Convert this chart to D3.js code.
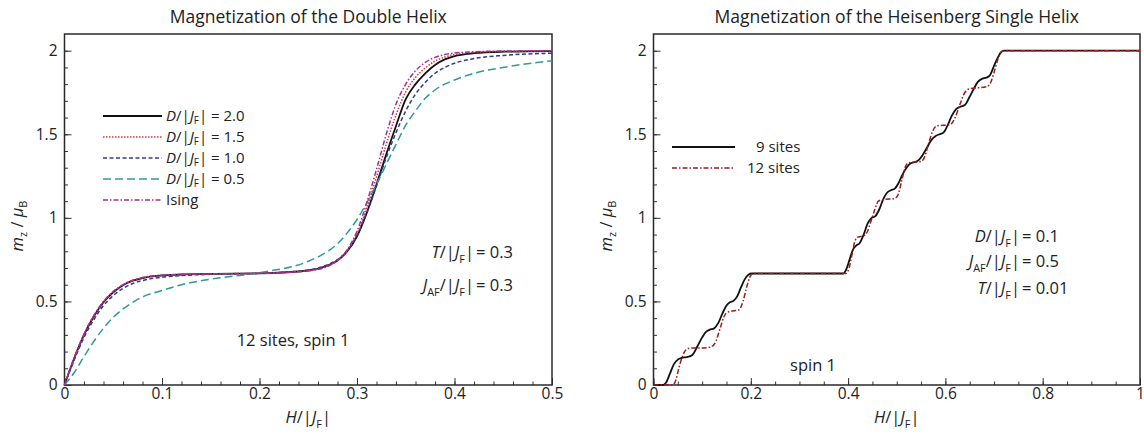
<!DOCTYPE html>
<html>
<head>
<meta charset="utf-8">
<script src="https://cdn.jsdelivr.net/npm/d3@7"></script>
<style>
  body { margin: 0; background: #fff; }
  text { font-family: "Open Sans", sans-serif; fill: #222; }
</style>
</head>
<body>
<script>
// ---- data: left panel (double helix, 12 sites, spin 1) ----
const hLeft = [0,0.01,0.02,0.03,0.04,0.05,0.06,0.07,0.08,0.1,0.12,0.15,0.2,0.25,0.27,0.28,0.29,0.3,0.31,0.32,0.33,0.34,0.35,0.36,0.37,0.38,0.39,0.4,0.42,0.45,0.5];
const mD20  = [0,0.16,0.30,0.41,0.495,0.555,0.597,0.624,0.64,0.655,0.661,0.665,0.668,0.685,0.715,0.745,0.80,0.89,1.03,1.2,1.38,1.55,1.71,1.80,1.865,1.915,1.948,1.968,1.985,1.994,1.998];
const mD15  = [0,0.162,0.302,0.412,0.497,0.557,0.598,0.625,0.641,0.656,0.661,0.665,0.668,0.684,0.712,0.745,0.805,0.905,1.06,1.245,1.44,1.615,1.755,1.84,1.897,1.938,1.962,1.977,1.99,1.996,1.999];
const mD10  = [0,0.15,0.285,0.39,0.475,0.535,0.578,0.607,0.625,0.645,0.655,0.662,0.668,0.688,0.72,0.75,0.805,0.895,1.03,1.19,1.36,1.51,1.64,1.74,1.81,1.865,1.9,1.925,1.953,1.972,1.985];
const mD05  = [0,0.075,0.17,0.26,0.34,0.405,0.455,0.495,0.527,0.565,0.6,0.633,0.672,0.74,0.8,0.845,0.91,0.99,1.09,1.2,1.32,1.44,1.555,1.64,1.715,1.765,1.8,1.825,1.865,1.9,1.94];
const mIsing = [0,0.165,0.305,0.415,0.5,0.56,0.6,0.627,0.643,0.657,0.662,0.665,0.668,0.683,0.71,0.745,0.81,0.92,1.09,1.29,1.5,1.68,1.8,1.88,1.93,1.96,1.977,1.986,1.994,1.998,2.0];

// ---- data: right panel (Heisenberg single helix, spin 1) ----
const h9 = [0,0.02,0.026,0.034,0.042,0.05,0.058,0.068,0.08,0.09,0.1,0.108,0.115,0.125,0.133,0.142,0.15,0.157,0.165,0.172,0.18,0.188,0.195,0.202,0.39,0.396,0.403,0.41,0.417,0.424,0.432,0.44,0.448,0.456,0.464,0.472,0.48,0.488,0.496,0.504,0.512,0.52,0.528,0.536,0.545,0.553,0.562,0.571,0.58,0.588,0.596,0.604,0.613,0.622,0.631,0.64,0.649,0.658,0.667,0.676,0.685,0.692,0.7,0.708,0.714,0.72,1.0];
const m9 = [0,0,0.015,0.07,0.125,0.152,0.162,0.167,0.18,0.23,0.285,0.318,0.33,0.34,0.37,0.43,0.475,0.495,0.505,0.53,0.585,0.635,0.66,0.667,0.667,0.69,0.75,0.81,0.835,0.85,0.9,0.965,0.998,1.01,1.05,1.11,1.15,1.165,1.175,1.21,1.26,1.3,1.325,1.333,1.345,1.375,1.42,1.465,1.49,1.5,1.51,1.55,1.61,1.65,1.665,1.675,1.72,1.77,1.815,1.833,1.84,1.855,1.91,1.96,1.99,2.0,2.0];
const h12 = [0,0.04,0.046,0.052,0.058,0.064,0.071,0.085,0.105,0.118,0.128,0.137,0.145,0.153,0.165,0.176,0.184,0.191,0.198,0.205,0.395,0.402,0.408,0.414,0.42,0.432,0.44,0.447,0.455,0.462,0.475,0.495,0.503,0.51,0.517,0.524,0.55,0.558,0.566,0.574,0.582,0.61,0.62,0.63,0.64,0.65,0.685,0.693,0.7,0.708,0.716,0.722,1.0];
const m12 = [0,0,0.03,0.1,0.16,0.2,0.218,0.222,0.222,0.228,0.26,0.34,0.41,0.437,0.444,0.45,0.5,0.58,0.645,0.667,0.667,0.7,0.78,0.86,0.885,0.893,0.92,0.98,1.05,1.1,1.111,1.115,1.14,1.22,1.3,1.33,1.337,1.37,1.45,1.52,1.55,1.558,1.6,1.68,1.75,1.772,1.785,1.81,1.87,1.95,1.995,2.0,2.0];

// ---- ticks ----
const yTicks = [0,0.5,1,1.5,2];
const yMinor = d3.range(0, 2.05, 0.1);
const xTicksLeft = [0,0.1,0.2,0.3,0.4,0.5];
const xMinorLeft = d3.range(0, 0.501, 0.02);
const xTicksRight = [0,0.2,0.4,0.6,0.8,1];
const xMinorRight = d3.range(0, 1.001, 0.05);

const W = 1144, H = 436;
const yTop = 34, yBot = 385;
const FS = 16.5;   // body text size
const LFS = 15;    // legend text size (rows are tight)

const svg = d3.select("body").append("svg")
    .attr("width", W)
    .attr("height", H);

// rich text helper: segments of {t, i (italic), s (subscript)}
function rich(sel, segs, sh = 4.5) {
    let down = false;
    segs.forEach(s => {
        const ts = sel.append("tspan").text(s.t);
        if (s.i) ts.attr("font-style", "italic");
        if (s.s && !down) { ts.attr("dy", sh).attr("font-size", "0.66em"); down = true; }
        else if (s.s) { ts.attr("font-size", "0.66em"); }
        else if (down) { ts.attr("dy", -sh); down = false; }
    });
    return sel;
}
const JF = [{t: "/|"}, {t: "J", i: 1}, {t: "F", s: 1}, {t: "|"}];

function panel(x0, x1, xMax, xTicks, xMinor, title) {
    const x = d3.scaleLinear().domain([0, xMax]).range([x0, x1]);
    const y = d3.scaleLinear().domain([0, 2.1]).range([yBot, yTop]);
    const g = svg.append("g");

    // minor + major ticks, inward
    const ax = (axis, tr) => g.append("g").attr("transform", tr).call(axis)
        .call(s => s.select(".domain").remove())
        .call(s => s.selectAll("line").attr("stroke", "#333"))
        .call(s => s.selectAll("text").attr("font-size", 15.5).attr("font-family", "Open Sans").attr("fill", "#222"));
    ax(d3.axisBottom(x).tickValues(xMinor).tickSize(-3.5).tickFormat(""), `translate(0,${yBot})`);
    ax(d3.axisBottom(x).tickValues(xTicks).tickSize(-7).tickPadding(3).tickFormat(d3.format("~g")), `translate(0,${yBot})`);
    ax(d3.axisLeft(y).tickValues(yMinor).tickSize(-3.5).tickFormat(""), `translate(${x0},0)`);
    ax(d3.axisLeft(y).tickValues(yTicks).tickSize(-7).tickPadding(7).tickFormat(d3.format("~g")), `translate(${x0},0)`);

    g.append("rect")
        .attr("x", x0).attr("y", yTop)
        .attr("width", x1 - x0).attr("height", yBot - yTop)
        .attr("fill", "none").attr("stroke", "#2a2a2a").attr("stroke-width", 1.5);

    g.append("text").attr("x", (x0 + x1) / 2).attr("y", 23)
        .attr("text-anchor", "middle").attr("font-size", 17.5).text(title);

    rich(g.append("text").attr("x", (x0 + x1) / 2).attr("y", 423)
        .attr("text-anchor", "middle").attr("font-size", FS), [{t: "H", i: 1}, ...JF]);

    rich(g.append("text").attr("transform", `translate(${x0 - 42},226) rotate(-90)`)
        .attr("text-anchor", "middle").attr("font-size", FS),
        [{t: "m", i: 1}, {t: "z", s: 1}, {t: " / "}, {t: "μ", i: 1}, {t: "B", s: 1}]);

    return {g, x, y};
}

function curve(p, hs, ms, style) {
    const line = d3.line()
        .x((d, i) => p.x(hs[i]))
        .y(d => p.y(d))
        .curve(d3.curveMonotoneX);
    p.g.append("path").datum(ms)
        .attr("d", line)
        .attr("fill", "none")
        .attr("stroke", style.c)
        .attr("stroke-width", style.w || 1.5)
        .attr("stroke-dasharray", style.d || null);
}

function legendRow(p, xa, xb, yy, style, tx, segs) {
    p.g.append("line").attr("x1", xa).attr("x2", xb).attr("y1", yy).attr("y2", yy)
        .attr("stroke", style.c).attr("stroke-width", style.w || 1.5)
        .attr("stroke-dasharray", style.d || null);
    rich(p.g.append("text").attr("x", tx).attr("y", yy + 5).attr("font-size", LFS), segs, 3);
}

function eqNote(p, xEq, yy, lhs, rhs) {
    rich(p.g.append("text").attr("x", xEq - 3).attr("y", yy).attr("text-anchor", "end").attr("font-size", FS), lhs);
    p.g.append("text").attr("x", xEq - 1).attr("y", yy).attr("font-size", FS).text(rhs);
}

// ---- styles ----
const sD20 = {c: "#111", w: 1.8};
const sD15 = {c: "#d23a3a", w: 1.5, d: "1.5,1.5"};
const sD10 = {c: "#2b3b9a", w: 1.5, d: "4,2.5"};
const sD05 = {c: "#2f9a98", w: 1.5, d: "8,4"};
const sIsing = {c: "#a0309c", w: 1.5, d: "5,2,1.5,2"};
const s9 = {c: "#111", w: 1.8};
const s12 = {c: "#9b1c1c", w: 1.5, d: "5,2,1.5,2"};

// ---- left panel ----
const L = panel(64.5, 552, 0.5, xTicksLeft, xMinorLeft, "Magnetization of the Double Helix");
curve(L, hLeft, mD20, sD20);
curve(L, hLeft, mD10, sD10);
curve(L, hLeft, mD05, sD05);
curve(L, hLeft, mD15, sD15);
curve(L, hLeft, mIsing, sIsing);

const Dlab = v => [{t: "D", i: 1}, ...JF, {t: " = " + v}];
legendRow(L, 103, 162, 116, sD20, 166, Dlab("2.0"));
legendRow(L, 103, 162, 137, sD15, 166, Dlab("1.5"));
legendRow(L, 103, 162, 158, sD10, 166, Dlab("1.0"));
legendRow(L, 103, 162, 179, sD05, 166, Dlab("0.5"));
legendRow(L, 103, 162, 200, sIsing, 166, [{t: "Ising"}]);

eqNote(L, 477, 258, [{t: "T", i: 1}, ...JF], "= 0.3");
eqNote(L, 477, 291, [{t: "J", i: 1}, {t: "AF", s: 1}, ...JF], "= 0.3");
L.g.append("text").attr("x", 293).attr("y", 346).attr("text-anchor", "middle")
    .attr("font-size", FS).text("12 sites, spin 1");

// ---- right panel ----
const R = panel(653.5, 1140, 1, xTicksRight, xMinorRight, "Magnetization of the Heisenberg Single Helix");
curve(R, h9, m9, s9);
curve(R, h12, m12, s12);

legendRow(R, 672, 735, 147, s9, 756, [{t: "9 sites"}]);
legendRow(R, 672, 735, 168, s12, 747, [{t: "12 sites"}]);

eqNote(R, 1023, 242, [{t: "D", i: 1}, ...JF], "= 0.1");
eqNote(R, 1023, 267, [{t: "J", i: 1}, {t: "AF", s: 1}, ...JF], "= 0.5");
eqNote(R, 1023, 294, [{t: "T", i: 1}, ...JF], "= 0.01");
R.g.append("text").attr("x", 813).attr("y", 371).attr("text-anchor", "middle")
    .attr("font-size", FS).text("spin 1");
</script>
</body>
</html>
